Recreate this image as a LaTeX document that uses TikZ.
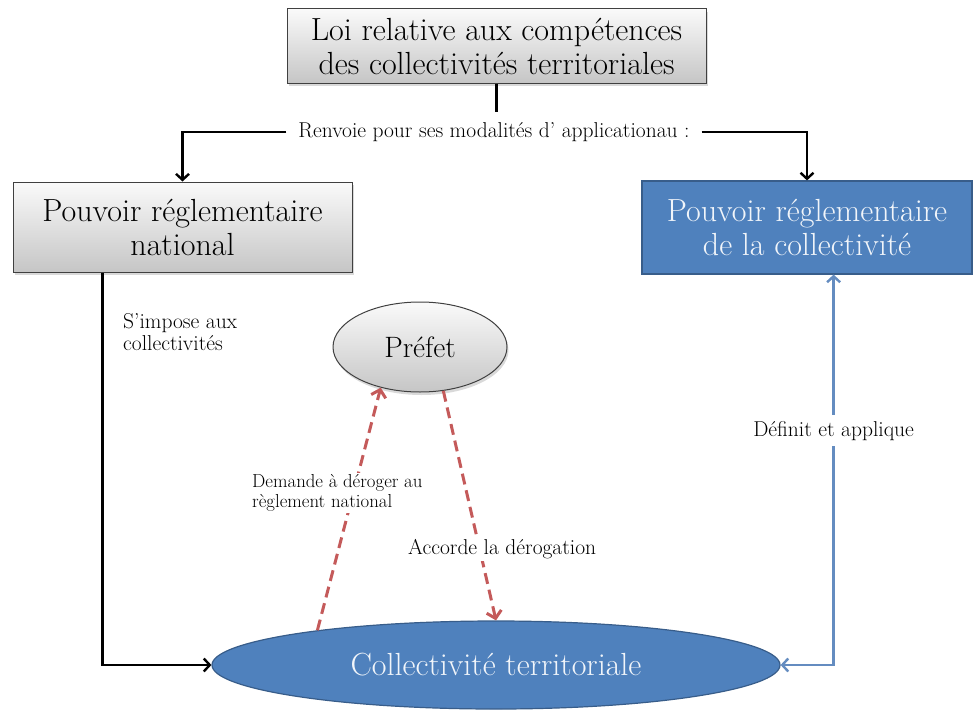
\documentclass[tikz,border=0pt]{standalone}
\usepackage{tikz}
\usetikzlibrary{shapes.geometric,arrows.meta,shadows,positioning}
\definecolor{bleu}{RGB}{79,129,189}
\definecolor{bleufonce}{RGB}{56,93,138}
\definecolor{bleutrait}{RGB}{100,140,192}
\definecolor{rouge}{RGB}{196,90,90}
\begin{document}
\begin{tikzpicture}[x=1pt,y=-1pt,
  grand/.style={font=\fontsize{32}{34}\selectfont, align=center},
  petit/.style={font=\fontsize{21.5}{22}\selectfont, align=left, inner sep=2pt},
  boitegrise/.style={rectangle, draw=black!75, line width=1pt, top color=gray!4, bottom color=gray!45,
    drop shadow={shadow xshift=1.5pt, shadow yshift=-3pt, opacity=0.3}, grand},
  boitebleue/.style={rectangle, draw=bleufonce, line width=1.2pt, fill=bleu, text=white!92!bleu, grand},
  trait/.style={line width=2.4pt, black},
  fleche/.style={trait, -{Straight Barb[length=6pt,width=13pt]}},
  pointille/.style={draw=rouge, line width=3pt, dash pattern=on 11pt off 6pt, -{Straight Barb[length=7pt,width=15pt]}},
  fblue/.style={draw=bleutrait, line width=2.4pt, {Straight Barb[length=6pt,width=13pt]}-{Straight Barb[length=6pt,width=13pt]}}]
\useasboundingbox (0,0) rectangle (973,709);
\node[boitegrise, minimum width=419pt, minimum height=74pt] (loi) at (496.5,46) {Loi relative aux compétences\\des collectivités territoriales};
\node[boitegrise, minimum width=339pt, minimum height=90pt] (national) at (182.5,227) {Pouvoir réglementaire\\national};
\node[boitebleue, minimum width=330pt, minimum height=93pt] (locale) at (807,227.5) {Pouvoir réglementaire\\de la collectivité};
\node[ellipse, draw=black!75, line width=1pt, top color=gray!4, bottom color=gray!45,
  drop shadow={shadow xshift=1.5pt, shadow yshift=-3pt, opacity=0.3},
  minimum width=174pt, minimum height=90pt, inner sep=0pt, font=\fontsize{29.5}{31}\selectfont] (prefet) at (420,347) {Préfet};
\node[ellipse, draw=bleufonce, line width=1.2pt, fill=bleu, text=white!92!bleu, minimum width=568pt, minimum height=88pt,
  inner sep=0pt, grand] (collect) at (496,665) {Collectivité territoriale};

\node[petit, inner xsep=12pt, inner ysep=10pt] (renvoi) at (494,132) {Renvoie pour ses modalités d’ applicationau :};
\draw[trait] (loi.south) -- (loi.south |- renvoi.north);
\draw[fleche] (renvoi.west) -| (national.north);
\draw[fleche] (renvoi.east) -| (locale.north);

\draw[fleche] ([xshift=90pt]national.south west) |- (collect.west);
\node[petit, anchor=west] (impose) at (121,332) {S’impose aux\\collectivités};

\draw[fblue] (collect.east) -| ([xshift=-139pt]locale.south east)
  node[pos=0.8, fill=white, petit, inner ysep=6pt] (definit) {Définit et applique};

\draw[pointille] (collect.169) -- (prefet.226);
\draw[pointille] (prefet.298) -- (collect.north);
\node[petit, anchor=west, fill=white, font=\fontsize{18.8}{20}\selectfont] (demande) at (250,493) {Demande à déroger au\\règlement national};
\node[petit, anchor=west, fill=white] (accorde) at (406,549) {Accorde la dérogation};
\end{tikzpicture}
\end{document}
